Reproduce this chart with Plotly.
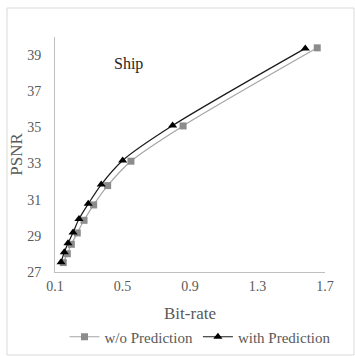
import plotly.graph_objects as go

bitrate_wo = [0.149, 0.173, 0.197, 0.232, 0.272, 0.329, 0.412, 0.550, 0.859, 1.654]
psnr_wo = [27.52, 28.01, 28.53, 29.16, 29.86, 30.71, 31.78, 33.13, 35.08, 39.40]
bitrate_with = [0.136, 0.155, 0.177, 0.207, 0.242, 0.297, 0.374, 0.501, 0.797, 1.583]
psnr_with = [27.54, 28.09, 28.59, 29.19, 29.93, 30.77, 31.84, 33.17, 35.10, 39.37]
x_ticks = [0.1, 0.5, 0.9, 1.3, 1.7]
y_ticks = [27, 29, 31, 33, 35, 37, 39]

FONT = "Liberation Serif, Times New Roman, serif"

fig = go.Figure()
fig.add_trace(go.Scatter(
    x=bitrate_wo, y=psnr_wo, name="w/o Prediction", mode="lines+markers",
    line=dict(color="#a5a5a5", width=1.2, shape="spline", smoothing=0.8),
    marker=dict(symbol="square", size=7, color="#8c8c8c"),
))
fig.add_trace(go.Scatter(
    x=bitrate_with, y=psnr_with, name="with Prediction", mode="lines+markers",
    line=dict(color="#1a1a1a", width=1.2, shape="spline", smoothing=0.8),
    marker=dict(symbol="triangle-up", size=8, color="#000000"),
))

W, H = 355, 356
L, R, T, B = 55, 30, 37, 84
pw, ph = W - L - R, H - T - B

def px(xp):
    return (xp - L) / pw

def py(yp):
    return (H - B - yp) / ph

fig.update_layout(
    width=W, height=H,
    margin=dict(l=L, r=R, t=T, b=B, autoexpand=False),
    paper_bgcolor="white", plot_bgcolor="white",
    font=dict(family=FONT, color="#595959", size=14),
    showlegend=True,
    legend=dict(orientation="h", x=px(200), y=py(337), xanchor="center", yanchor="middle",
                font=dict(family=FONT, size=15, color="#595959"), itemwidth=30, tracegroupgap=0,
                bgcolor="rgba(0,0,0,0)"),
    xaxis=dict(range=[0.1, 1.7], tickvals=x_ticks, ticktext=[str(v) for v in x_ticks],
               automargin=False,
               showgrid=False, zeroline=False, showline=True, linecolor="#bfbfbf", linewidth=1,
               ticks="", ticklabelstandoff=1, tickfont=dict(family=FONT, size=14, color="#595959"),
               title=dict(text="Bit-rate", font=dict(family=FONT, size=17, color="#595959"), standoff=14)),
    yaxis=dict(range=[27, 40], tickvals=y_ticks, ticktext=[str(v) for v in y_ticks],
               automargin=False,
               showgrid=False, zeroline=False, showline=True, linecolor="#bfbfbf", linewidth=1,
               ticks="", ticklabelstandoff=10, tickfont=dict(family=FONT, size=14, color="#595959"),
               title=dict(text="PSNR", font=dict(family=FONT, size=17, color="#595959"), standoff=0)),
    annotations=[dict(text="Ship", x=px(128), y=py(64), xref="paper", yref="paper",
                      showarrow=False, font=dict(family=FONT, size=16, color="#262626"),
                      xanchor="center", yanchor="middle")],
    shapes=[dict(type="rect", xref="paper", yref="paper",
                 x0=px(7), x1=px(354), y0=py(355), y1=py(8),
                 line=dict(color="#d9d9d9", width=1))],
)

fig.write_html("out.html")
